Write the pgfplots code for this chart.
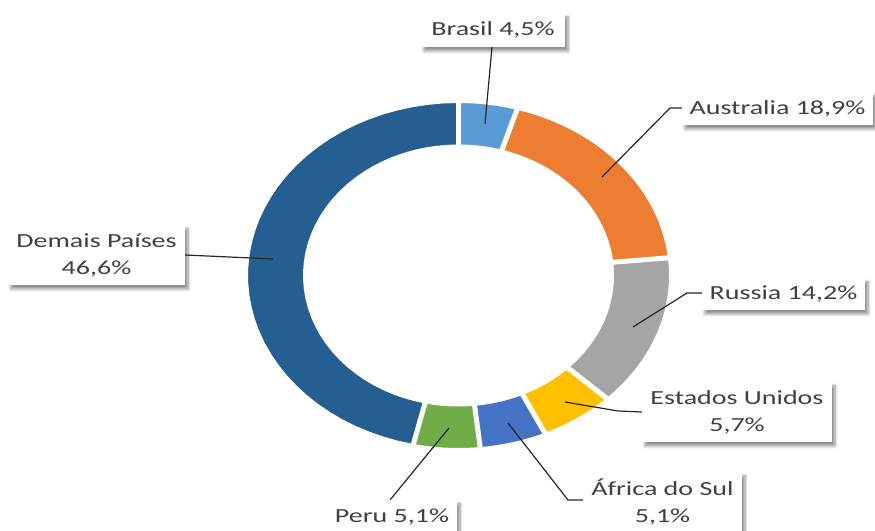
\documentclass[border=0pt]{standalone}
\usepackage{pgfplots}
\pgfplotsset{compat=1.18}
\usepackage{fontspec}
\setmainfont{Carlito}[FakeStretch=1.4]
\usetikzlibrary{shadows.blur}
\definecolor{cBr}{HTML}{5B9BD5}
\definecolor{cAu}{HTML}{ED7D31}
\definecolor{cRu}{HTML}{A5A5A5}
\definecolor{cUS}{HTML}{FFC000}
\definecolor{cAf}{HTML}{4472C4}
\definecolor{cPe}{HTML}{70AD47}
\definecolor{cDe}{HTML}{255E91}
\definecolor{txt}{HTML}{404040}
\tikzset{
  lbl/.style={fill=white, text=txt, inner sep=0pt, align=center,
    font=\fontsize{20bp}{27bp}\selectfont,
    blur shadow={shadow xshift=3bp, shadow yshift=-4bp, shadow blur radius=3bp,
      shadow blur steps=6, shadow opacity=45}},
  leader/.style={black!85, line width=1.2bp, mark=none}}
% shares (%) in drawing order, clockwise from the top
\def\vBr{4.5}\def\vAu{18.9}\def\vRu{14.2}\def\vUS{5.7}\def\vAf{5.1}\def\vPe{5.1}\def\vDe{46.6}
\def\cx{458.5}\def\cy{255.5}
\def\rxo{213}\def\ryo{175}\def\rxi{153}\def\ryi{128.5}
\newcommand{\ringplot}[3]{%
  \addplot[#1, samples at={0,1,...,40,60,61,...,100}, variable=\t]
   ({\cx+(\rxo-(\rxo-\rxi)*(\t>50))*cos((#2)+((#3)-(#2))*((\t<50)*\t+(\t>50)*(100-\t))/40)},
    {\cy+(\ryo-(\ryo-\ryi)*(\t>50))*sin((#2)+((#3)-(#2))*((\t<50)*\t+(\t>50)*(100-\t))/40)});}
\begin{document}
\begin{tikzpicture}
\pgfmathsetmacro\tot{\vBr+\vAu+\vRu+\vUS+\vAf+\vPe+\vDe}
\pgfmathsetmacro\cA{0}
\pgfmathsetmacro\cB{\cA+\vBr}
\pgfmathsetmacro\cC{\cB+\vAu}
\pgfmathsetmacro\cD{\cC+\vRu}
\pgfmathsetmacro\cE{\cD+\vUS}
\pgfmathsetmacro\cF{\cE+\vAf}
\pgfmathsetmacro\cG{\cF+\vPe}
\pgfmathsetmacro\cH{\cG+\vDe}
\pgfmathsetmacro\aA{90-360*(\cA/\tot)}
\pgfmathsetmacro\aB{90-360*(\cB/\tot)}
\pgfmathsetmacro\aC{90-360*(\cC/\tot)}
\pgfmathsetmacro\aD{90-360*(\cD/\tot)}
\pgfmathsetmacro\aE{90-360*(\cE/\tot)}
\pgfmathsetmacro\aF{90-360*(\cF/\tot)}
\pgfmathsetmacro\aG{90-360*(\cG/\tot)}
\pgfmathsetmacro\aH{90-360*(\cH/\tot)}
\begin{axis}[x=1bp, y=1bp, xmin=0, xmax=875, ymin=0, ymax=531,
  hide axis, clip=false]
\coordinate (SW) at (rel axis cs:0,0);
\coordinate (NE) at (rel axis cs:1,1);
% filled slices
\ringplot{fill=cBr, draw=none}{\aA}{\aB}
\ringplot{fill=cAu, draw=none}{\aB}{\aC}
\ringplot{fill=cRu, draw=none}{\aC}{\aD}
\ringplot{fill=cUS, draw=none}{\aD}{\aE}
\ringplot{fill=cAf, draw=none}{\aE}{\aF}
\ringplot{fill=cPe, draw=none}{\aF}{\aG}
\ringplot{fill=cDe, draw=none}{\aG}{\aH}
% white separators
\ringplot{draw=white, line width=5bp, fill=none}{\aA}{\aB}
\ringplot{draw=white, line width=5bp, fill=none}{\aB}{\aC}
\ringplot{draw=white, line width=5bp, fill=none}{\aC}{\aD}
\ringplot{draw=white, line width=5bp, fill=none}{\aD}{\aE}
\ringplot{draw=white, line width=5bp, fill=none}{\aE}{\aF}
\ringplot{draw=white, line width=5bp, fill=none}{\aF}{\aG}
\ringplot{draw=white, line width=5bp, fill=none}{\aG}{\aH}
% leader lines
\addplot[leader] coordinates {(492,484) (485,407)};
\addplot[leader] coordinates {(688,423) (670,423) (602,354)};
\addplot[leader] coordinates {(702,238) (687,238) (633,204)};
\addplot[leader] coordinates {(642,119) (618,120) (565,129)};
\addplot[leader] coordinates {(583,31) (568,31) (508,108)};
\addplot[leader] coordinates {(390,31) (449,103)};
\addplot[leader] coordinates {(185,276) (273,272)};
% labels
\node[lbl, minimum width=144bp, minimum height=34bp] at (axis cs:493,501) {Brasil 4,5\%};
\node[lbl, minimum width=191bp, minimum height=33bp] at (axis cs:777.5,422.5) {Australia 18,9\%};
\node[lbl, minimum width=163bp, minimum height=32bp] at (axis cs:783.5,237) {Russia 14,2\%};
\node[lbl, minimum width=190bp, minimum height=60bp] at (axis cs:737,119) {Estados Unidos\\5,7\%};
\node[lbl, minimum width=159bp, minimum height=60bp] at (axis cs:662.5,29) {África do Sul\\5,1\%};
\node[lbl, minimum width=130bp, minimum height=34bp] at (axis cs:392,14) {Peru 5,1\%};
\node[lbl, minimum width=177bp, minimum height=60bp] at (axis cs:96.5,276) {Demais Países\\46,6\%};
\end{axis}
\pgfresetboundingbox
\useasboundingbox (SW) rectangle (NE);
\end{tikzpicture}
\end{document}
